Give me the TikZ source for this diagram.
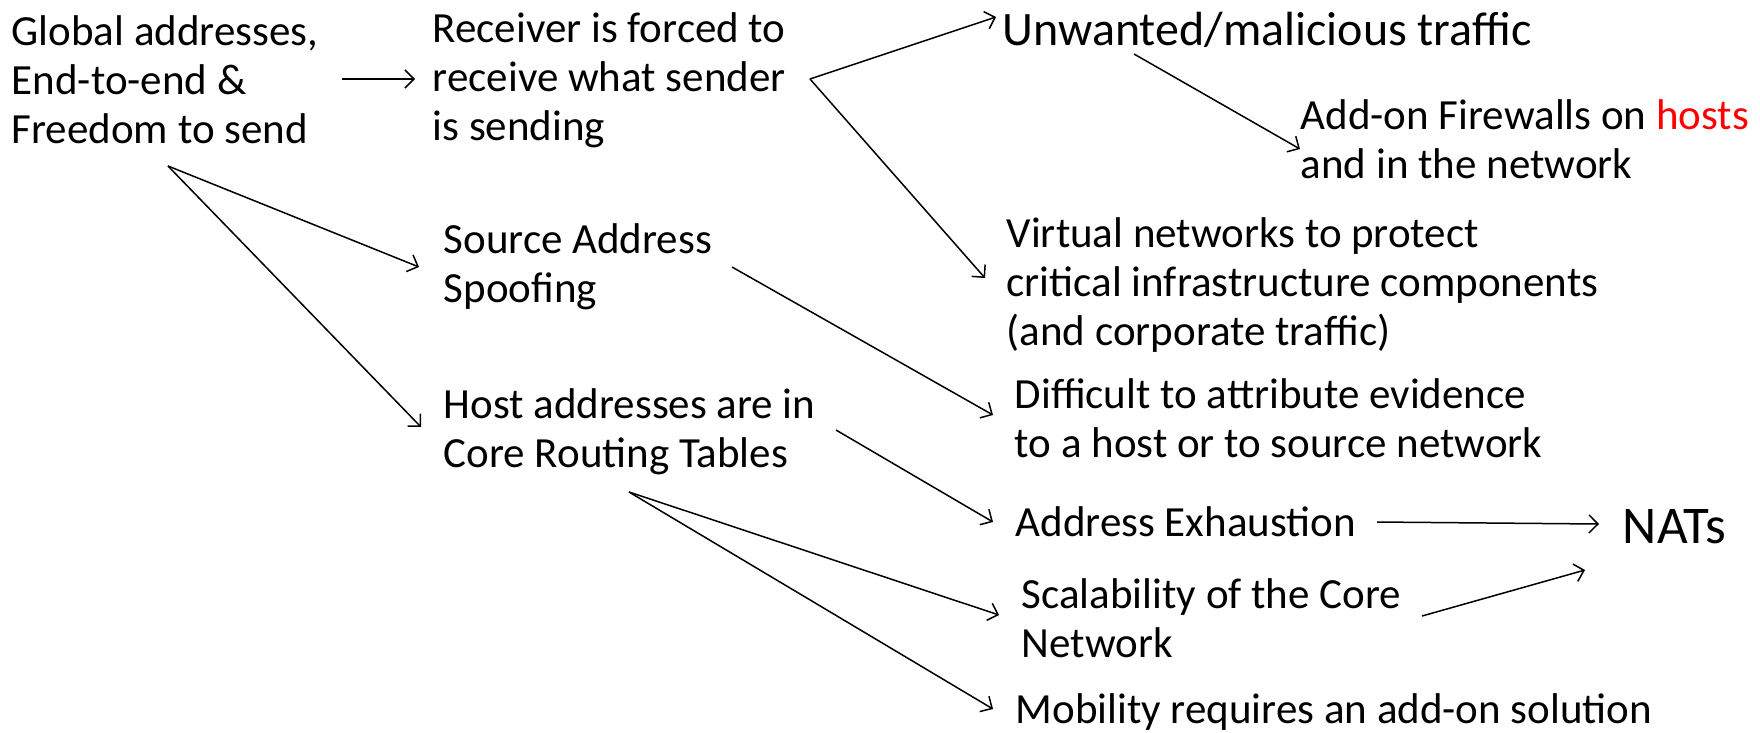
\documentclass[tikz,border=0pt]{standalone}
\usepackage{fontspec}
\setmainfont{Carlito}
\usetikzlibrary{arrows.meta,calc}
\begin{document}
\begin{tikzpicture}[>={Straight Barb[length=9pt,width=18pt]}, x=1pt, y=-1pt, line width=1.5pt,
  item/.style={anchor=west, align=left, inner sep=0pt, font=\fontsize{43}{49}\selectfont},
  big/.style={anchor=west, inner sep=0pt, font=\fontsize{48}{58}\selectfont}]
\useasboundingbox (0,0) rectangle (1760,732);
% first column
\node (glob) at (11,80)[item]{Global addresses,\\End-to-end \&\\Freedom to send};
\node (recv) at (432,80)[item]{Receiver is forced to\\receive what sender\\is sending};
\node (src) at (443,267)[item]{Source Address\\Spoofing};
\node (host) at (443,432)[item]{Host addresses are in\\Core Routing Tables};
% consequences
\node (unw) at (1002,30)[big]{Unwanted/malicious traffic};
\node (fire) at (1300,139)[item]{Add-on Firewalls on \textcolor{red}{hosts}\\and in the network};
\node (virt) at (1006,285)[item]{Virtual networks to protect\\critical infrastructure components\\(and corporate traffic)};
\node (diff) at (1014,418)[item]{Difficult to attribute evidence\\to a host or to source network};
\node (addr) at (1015,522)[item]{Address Exhaustion};
\node (scal) at (1021,618)[item]{Scalability of the Core\\Network};
\node (mob) at (1015,712)[item]{Mobility requires an add-on solution};
\node (nats) at (1622,527)[big, font=\fontsize{53}{60}\selectfont]{NATs};
% arrows
\draw[->]($(glob.west)+(331,-1)$)--($(recv.west)+(-17,-1)$);
\draw[->]($(glob.west)+(157,86)$)--($(src.west)+(-24,0)$);
\draw[->]($(glob.west)+(157,86)$)--($(host.west)+(-22,-5)$);
\draw[->]($(recv.west)+(378,-1)$)--($(unw.west)+(-6,-13)$);
\draw[->]($(recv.west)+(378,-1)$)--($(virt.west)+(-21,-7)$);
\draw[->]($(unw.west)+(132,24)$)--($(fire.west)+(0,10)$);
\draw[->]($(src.west)+(289,0)$)--($(diff.west)+(-21,-3)$);
\draw[->]($(host.west)+(393,-2)$)--($(addr.west)+(-22,0)$);
\draw[->]($(host.west)+(186,60)$)--($(scal.west)+(-22,-3)$);
\draw[->]($(host.west)+(186,60)$)--($(mob.west)+(-22,-3)$);
\draw[->]($(addr.west)+(362,0)$)--($(nats.west)+(-23,-3)$);
\draw[->]($(scal.west)+(401,-2)$)--($(nats.west)+(-37,43)$);
\end{tikzpicture}
\end{document}
